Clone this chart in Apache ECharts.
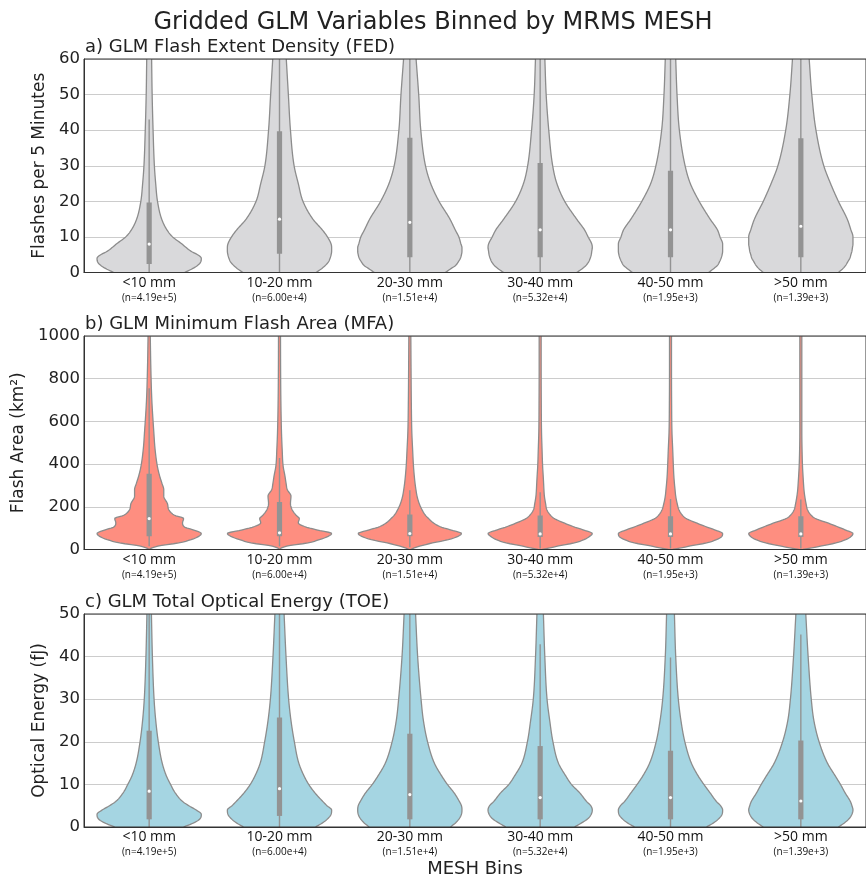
<!DOCTYPE html>
<html>
<head>
<meta charset="utf-8">
<script src="https://cdn.jsdelivr.net/npm/echarts@6/dist/echarts.min.js"></script>
<style>
  html, body { margin: 0; padding: 0; background: #fff; }
  #chart { width: 866px; height: 879px; }
</style>
</head>
<body>
<div id="chart"></div>
<script>
// bins and sample sizes
const categories = ['<10 mm', '10-20 mm', '20-30 mm', '30-40 mm', '40-50 mm', '>50 mm'];
const counts = ['4.19e+5', '6.00e+4', '1.51e+4', '5.32e+4', '1.95e+3', '1.39e+3'];

// a) FED: violin half-widths (fraction of max) at each level
const fedLevels = [0, 1, 2, 3, 4, 5, 6, 7, 8, 10, 12, 15, 20, 25, 30, 40, 50, 60];
const fedShape = [
  [0.68, 0.82, 0.93, 0.99, 1.0, 0.93, 0.80, 0.71, 0.63, 0.45, 0.34, 0.24, 0.16, 0.125, 0.10, 0.075, 0.057, 0.047],
  [0.70, 0.80, 0.88, 0.94, 0.97, 0.99, 1.0, 1.0, 0.99, 0.92, 0.82, 0.64, 0.45, 0.36, 0.28, 0.21, 0.17, 0.13],
  [0.68, 0.78, 0.88, 0.93, 0.97, 0.99, 1.0, 1.0, 0.98, 0.94, 0.87, 0.77, 0.56, 0.40, 0.30, 0.21, 0.17, 0.12],
  [0.70, 0.80, 0.88, 0.93, 0.96, 0.98, 0.99, 1.0, 0.99, 0.92, 0.85, 0.70, 0.47, 0.32, 0.24, 0.165, 0.115, 0.09],
  [0.73, 0.82, 0.90, 0.94, 0.97, 0.99, 1.0, 1.0, 1.0, 0.95, 0.90, 0.76, 0.55, 0.38, 0.28, 0.17, 0.125, 0.10],
  [0.72, 0.80, 0.86, 0.90, 0.94, 0.96, 0.98, 0.99, 1.0, 1.0, 0.96, 0.89, 0.72, 0.57, 0.44, 0.29, 0.21, 0.16]
];
const fedQ1 = [2.4, 5.3, 4.3, 4.3, 4.3, 4.3];
const fedMedian = [8.0, 15.0, 14.1, 12.0, 12.0, 13.0];
const fedQ3 = [19.7, 39.7, 37.9, 30.8, 28.6, 37.7];
const fedWhiskerLow = [0, 0, 0, 0, 0, 0];
const fedWhiskerHigh = [43, 91, 88, 70, 65, 88];

// b) MFA
const mfaLevels = [0, 10, 20, 30, 45, 60, 75, 90, 105, 125, 145, 160, 185, 215, 250, 280, 310, 345, 390, 470, 550, 700, 850, 1000];
const mfaShape = [
  [0, 0.08, 0.26, 0.55, 0.79, 0.94, 1.0, 0.87, 0.68, 0.64, 0.66, 0.49, 0.38, 0.35, 0.28, 0.28, 0.245, 0.20, 0.157, 0.113, 0.089, 0.051, 0.032, 0.021],
  [0, 0.06, 0.23, 0.53, 0.75, 0.92, 1.0, 0.75, 0.51, 0.36, 0.38, 0.32, 0.245, 0.21, 0.22, 0.15, 0.126, 0.104, 0.07, 0.051, 0.038, 0.026, 0.021, 0.019],
  [0.02, 0.11, 0.26, 0.42, 0.72, 0.91, 0.99, 0.81, 0.60, 0.45, 0.36, 0.30, 0.236, 0.18, 0.138, 0.117, 0.10, 0.085, 0.07, 0.053, 0.038, 0.028, 0.023, 0.019],
  [0.04, 0.23, 0.42, 0.64, 0.83, 0.94, 1.0, 0.85, 0.66, 0.45, 0.27, 0.20, 0.13, 0.104, 0.081, 0.072, 0.066, 0.058, 0.047, 0.036, 0.026, 0.021, 0.019, 0.019],
  [0.04, 0.25, 0.45, 0.68, 0.87, 0.98, 1.0, 0.87, 0.70, 0.49, 0.30, 0.23, 0.164, 0.128, 0.10, 0.087, 0.075, 0.064, 0.055, 0.042, 0.028, 0.021, 0.019, 0.019],
  [0.04, 0.26, 0.47, 0.66, 0.85, 0.96, 1.0, 0.87, 0.72, 0.51, 0.28, 0.20, 0.13, 0.10, 0.075, 0.06, 0.051, 0.042, 0.032, 0.023, 0.019, 0.019, 0.019, 0.019]
];
const mfaQ1 = [62, 62, 62, 59, 59, 59];
const mfaMedian = [145, 78, 75, 73, 73, 73];
const mfaQ3 = [355, 223, 164, 159, 156, 156];
const mfaWhiskerLow = [15, 15, 10, 5, 5, 5];
const mfaWhiskerHigh = [755, 428, 277, 268, 237, 234];

// c) TOE
const toeLevels = [0, 1, 2, 3, 4, 5, 6, 8, 10, 12, 15, 20, 25, 30, 40, 50];
const toeShape = [
  [0.66, 0.86, 0.98, 1.0, 0.90, 0.76, 0.64, 0.50, 0.41, 0.33, 0.25, 0.175, 0.126, 0.094, 0.062, 0.043],
  [0.69, 0.83, 0.93, 0.99, 1.0, 0.91, 0.83, 0.68, 0.56, 0.47, 0.37, 0.285, 0.22, 0.175, 0.125, 0.088],
  [0.78, 0.88, 0.95, 0.99, 1.0, 0.99, 0.95, 0.85, 0.72, 0.61, 0.47, 0.34, 0.26, 0.215, 0.15, 0.11],
  [0.66, 0.80, 0.92, 0.98, 1.0, 0.97, 0.89, 0.76, 0.60, 0.49, 0.35, 0.245, 0.183, 0.132, 0.089, 0.062],
  [0.69, 0.83, 0.93, 0.99, 1.0, 0.96, 0.88, 0.76, 0.64, 0.53, 0.40, 0.275, 0.20, 0.15, 0.10, 0.075],
  [0.72, 0.84, 0.93, 0.98, 1.0, 0.98, 0.95, 0.85, 0.76, 0.66, 0.51, 0.35, 0.25, 0.20, 0.14, 0.095]
];
const toeQ1 = [1.8, 2.6, 1.8, 1.8, 1.8, 1.8];
const toeMedian = [8.4, 9.0, 7.6, 6.9, 6.9, 6.1];
const toeQ3 = [22.6, 25.7, 21.9, 19.0, 17.9, 20.3];
const toeWhiskerLow = [0, 0, 0, 0, 0, 0];
const toeWhiskerHigh = [54, 60, 52, 42.9, 39.8, 45.2];

const lineGray = '#8c8c8c';
const boxGray = '#939393';

// monotone cubic interpolation, only used to draw a smooth outline between read-off points
function monotone(xs, ys, x) {
  const n = xs.length;
  if (x <= xs[0]) return ys[0];
  if (x >= xs[n - 1]) return ys[n - 1];
  const d = [];
  for (let j = 0; j < n - 1; j++) d.push((ys[j + 1] - ys[j]) / (xs[j + 1] - xs[j]));
  const m = [d[0]];
  for (let j = 1; j < n - 1; j++) m.push(d[j - 1] * d[j] <= 0 ? 0 : (d[j - 1] + d[j]) / 2);
  m.push(d[n - 2]);
  for (let j = 0; j < n - 1; j++) {
    if (d[j] === 0) { m[j] = 0; m[j + 1] = 0; continue; }
    const a = m[j] / d[j], b = m[j + 1] / d[j];
    const s = a * a + b * b;
    if (s > 9) {
      const t = 3 / Math.sqrt(s);
      m[j] = t * a * d[j];
      m[j + 1] = t * b * d[j];
    }
  }
  let k = 0;
  while (xs[k + 1] < x) k++;
  const h = xs[k + 1] - xs[k];
  const t = (x - xs[k]) / h;
  const t2 = t * t, t3 = t2 * t;
  return (2 * t3 - 3 * t2 + 1) * ys[k] + (t3 - 2 * t2 + t) * h * m[k] +
    (-2 * t3 + 3 * t2) * ys[k + 1] + (t3 - t2) * h * m[k + 1];
}

function violinSeries(idx, levels, shape, q1, med, q3, wLow, wHigh, color) {
  return {
    type: 'custom',
    xAxisIndex: idx,
    yAxisIndex: idx,
    clip: true,
    silent: true,
    data: categories.map((c, i) => [i]),
    renderItem: function (params, api) {
      const i = params.dataIndex;
      const half = api.size([1, 0])[0] * 0.4;
      const w = shape[i];
      const lo = levels[0], hi = levels[levels.length - 1];
      const left = [], right = [];
      const steps = 260;
      for (let s = 0; s <= steps; s++) {
        const v = lo + (hi - lo) * s / steps;
        const f = Math.max(0, monotone(levels, w, v));
        const p = api.coord([i, v]);
        left.push([p[0] - f * half, p[1]]);
        right.push([p[0] + f * half, p[1]]);
      }
      const poly = left.concat(right.slice().reverse());
      const c = api.coord([i, 0])[0];
      const yq1 = api.coord([i, q1[i]])[1];
      const yq3 = api.coord([i, q3[i]])[1];
      const yMed = api.coord([i, med[i]])[1];
      const yLo = api.coord([i, wLow[i]])[1];
      const yHi = api.coord([i, wHigh[i]])[1];
      return {
        type: 'group',
        children: [
          { type: 'polygon', shape: { points: poly }, style: { fill: color, stroke: null } },
          { type: 'polyline', shape: { points: left }, style: { stroke: lineGray, lineWidth: 1.3, fill: null } },
          { type: 'polyline', shape: { points: right }, style: { stroke: lineGray, lineWidth: 1.3, fill: null } },
          { type: 'line', shape: { x1: c, y1: yLo, x2: c, y2: yHi }, style: { stroke: boxGray, lineWidth: 1.4 } },
          { type: 'rect', shape: { x: c - 2.6, y: yq3, width: 5.2, height: yq1 - yq3 }, style: { fill: boxGray } },
          { type: 'circle', shape: { cx: c, cy: yMed, r: 1.6 }, style: { fill: '#ffffff' } }
        ]
      };
    }
  };
}

const gridTops = [59, 336, 614];
const gridHeight = 213.5;

const tickFont = 'DejaVu Sans';
const labelRich = {
  a: { fontFamily: 'Open Sans', fontSize: 14, color: '#111', lineHeight: 17 },
  b: { fontFamily: 'Open Sans', fontSize: 10, color: '#111', lineHeight: 13 }
};

function xAxis(idx, name) {
  return {
    type: 'category',
    gridIndex: idx,
    data: categories,
    name: name || '',
    nameLocation: 'middle',
    nameGap: 33,
    nameTextStyle: { fontFamily: tickFont, fontSize: 18, color: '#222' },
    axisLine: { lineStyle: { color: '#333', width: 1 } },
    axisTick: { alignWithLabel: true, length: 4, lineStyle: { color: '#333' } },
    axisLabel: {
      margin: 2,
      interval: 0,
      formatter: (v, n) => '{a|' + v + '}\n{b|(n=' + counts[n] + ')}',
      rich: labelRich
    },
    splitLine: { show: false }
  };
}

function yAxis(idx, max, interval, name, gap) {
  return {
    type: 'value',
    gridIndex: idx,
    min: 0,
    max: max,
    interval: interval,
    name: name,
    nameLocation: 'middle',
    nameGap: gap,
    nameTextStyle: { fontFamily: tickFont, fontSize: 17, color: '#222' },
    axisLine: { show: true, lineStyle: { color: '#333', width: 1 } },
    axisTick: { show: false },
    axisLabel: { fontFamily: tickFont, fontSize: 16.5, color: '#222', margin: 4, formatter: v => String(v) },
    splitLine: { show: true, lineStyle: { color: '#cccccc', width: 1 } }
  };
}

const subTitles = ['a) GLM Flash Extent Density (FED)', 'b) GLM Minimum Flash Area (MFA)', 'c) GLM Total Optical Energy (TOE)'];

const chart = echarts.init(document.getElementById('chart'), null, { renderer: 'canvas' });
chart.setOption({
  animation: false,
  backgroundColor: '#fff',
  title: [
    { text: 'Gridded GLM Variables Binned by MRMS MESH', left: 'center', top: 6,
      textStyle: { fontFamily: tickFont, fontSize: 24, fontWeight: 'normal', color: '#222' } }
  ].concat(subTitles.map((t, k) => ({
    text: t, left: 80, top: gridTops[k] - 26,
    textStyle: { fontFamily: tickFont, fontSize: 18, fontWeight: 'normal', color: '#222' }
  }))),
  grid: gridTops.map(t => ({
    left: 84, top: t, width: 790, height: gridHeight,
    show: true, borderColor: '#333', borderWidth: 1, backgroundColor: 'transparent', z: 10
  })),
  xAxis: [xAxis(0), xAxis(1), xAxis(2, 'MESH Bins')],
  yAxis: [
    yAxis(0, 60, 10, 'Flashes per 5 Minutes', 28),
    yAxis(1, 1000, 200, 'Flash Area (km²)', 48),
    yAxis(2, 50, 10, 'Optical Energy (fJ)', 28)
  ],
  series: [
    violinSeries(0, fedLevels, fedShape, fedQ1, fedMedian, fedQ3, fedWhiskerLow, fedWhiskerHigh, '#d9d9db'),
    violinSeries(1, mfaLevels, mfaShape, mfaQ1, mfaMedian, mfaQ3, mfaWhiskerLow, mfaWhiskerHigh, '#fe8e80'),
    violinSeries(2, toeLevels, toeShape, toeQ1, toeMedian, toeQ3, toeWhiskerLow, toeWhiskerHigh, '#a5d5e2')
  ]
});
</script>
</body>
</html>
